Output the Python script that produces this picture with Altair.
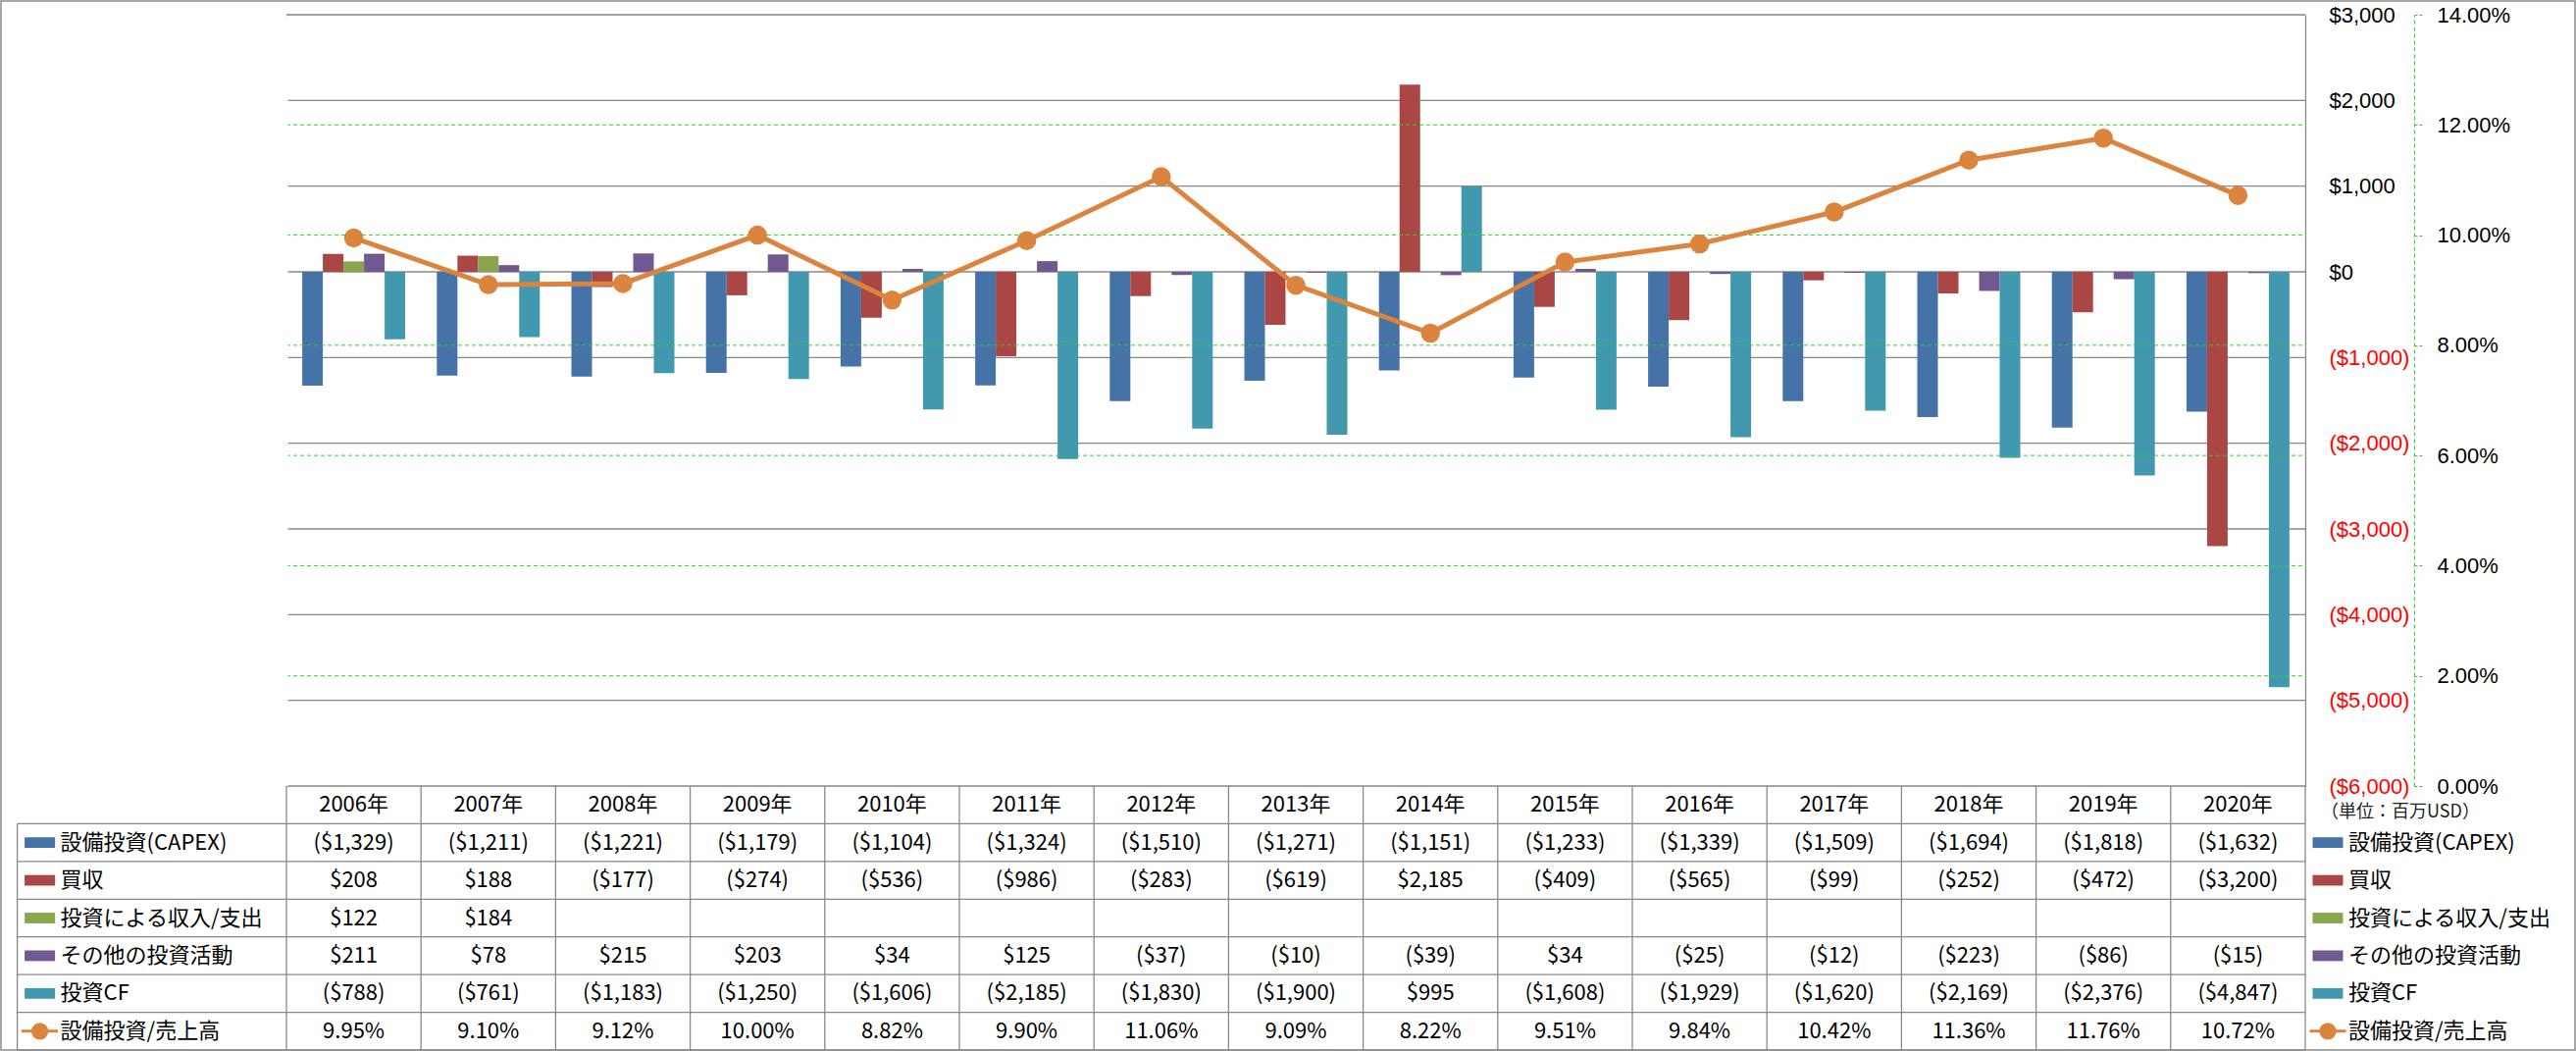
import altair as alt
import pandas as pd

# ---------------- data ----------------
years = ["2006年", "2007年", "2008年", "2009年", "2010年", "2011年", "2012年", "2013年",
         "2014年", "2015年", "2016年", "2017年", "2018年", "2019年", "2020年"]
series_names = ["設備投資(CAPEX)", "買収", "投資による収入/支出", "その他の投資活動", "投資CF"]
series_colors = ["#4572A7", "#AA4643", "#89A54E", "#71588F", "#4198AF"]
capex = [-1329, -1211, -1221, -1179, -1104, -1324, -1510, -1271, -1151, -1233, -1339, -1509, -1694, -1818, -1632]
acquisitions = [208, 188, -177, -274, -536, -986, -283, -619, 2185, -409, -565, -99, -252, -472, -3200]
invest_inout = [122, 184, None, None, None, None, None, None, None, None, None, None, None, None, None]
other_invest = [211, 78, 215, 203, 34, 125, -37, -10, -39, 34, -25, -12, -223, -86, -15]
invest_cf = [-788, -761, -1183, -1250, -1606, -2185, -1830, -1900, 995, -1608, -1929, -1620, -2169, -2376, -4847]
ratio_name = "設備投資/売上高"
ratio_color = "#DB843D"
capex_ratio = [9.95, 9.10, 9.12, 10.00, 8.82, 9.90, 11.06, 9.09, 8.22, 9.51, 9.84, 10.42, 11.36, 11.76, 10.72]
dollar_ticks = [-6000, -5000, -4000, -3000, -2000, -1000, 0, 1000, 2000, 3000]
pct_ticks = [0, 0.02, 0.04, 0.06, 0.08, 0.10, 0.12, 0.14]
pct_grid_values = [0.02, 0.04, 0.06, 0.08, 0.10, 0.12]
unit_note = "（単位：百万USD）"

FONT = "Noto Sans CJK JP"
AXIS_FONT = "Liberation Sans"
GRID = "#888888"
GREEN = "#22DD22"

# ---------------- layout ----------------
W, H = 2058, 786
STEP = W / len(years)
cols = ["L1", "L2"] + years + ["R1", "R2"]
x_scale = alt.Scale(type="band", domain=cols, range=[-2 * STEP, W + 2 * STEP],
                    paddingInner=0, paddingOuter=0)
row_keys = ["r1", "r2", "r3", "r4", "r5", "r6"]
rows = ["H"] + row_keys + ["END"]
ROW = (1055 - H) / 7
row_scale = alt.Scale(type="band", domain=rows, range=[H, H + 8 * ROW],
                      paddingInner=0, paddingOuter=0)
usd_scale = alt.Scale(domain=[-6000, 3000], nice=False, zero=False)
pct_scale = alt.Scale(domain=[0, 0.14], nice=False, zero=False)


def fmt_usd(v):
    if v is None:
        return ""
    if v < 0:
        return "($" + f"{-v:,}" + ")"
    return "$" + f"{v:,}"


series_values = [capex, acquisitions, invest_inout, other_invest, invest_cf]

bar_records = []
for name, vals in zip(series_names, series_values):
    for y, v in zip(years, vals):
        if v is not None:
            bar_records.append({"year": y, "series": name, "value": v})
bar_df = pd.DataFrame(bar_records)

ratio_df = pd.DataFrame({"year": years, "ratio": [r / 100 for r in capex_ratio]})

usd_grid_df = pd.DataFrame({"value": dollar_ticks})
pct_grid_df = pd.DataFrame({"ratio": pct_grid_values})

text_records = [{"col": y, "row": "H", "text": y} for y in years]
for rk, vals in zip(row_keys[:5], series_values):
    for y, v in zip(years, vals):
        text_records.append({"col": y, "row": rk, "text": fmt_usd(v)})
for y, r in zip(years, capex_ratio):
    text_records.append({"col": y, "row": "r6", "text": f"{r:.2f}%"})
text_df = pd.DataFrame(text_records)

labels = series_names + [ratio_name]
label_records = []
for side in ["L1", "R1"]:
    for rk, lab, c in zip(row_keys, labels, series_colors + [ratio_color]):
        label_records.append({"col": side, "row": rk, "label": lab, "clr": c})
label_df = pd.DataFrame(label_records)
swatch_df = label_df[label_df["row"] != "r6"]
line_swatch_df = label_df[label_df["row"] == "r6"]

vline_df = pd.DataFrame(
    [{"col": c, "top": "H", "bot": "END"} for c in years + ["R1"]]
    + [{"col": "L1", "top": "r1", "bot": "END"}])
hline_df = pd.DataFrame([{"row": r, "a": "L1", "b": "R1"} for r in row_keys + ["END"]])
note_df = pd.DataFrame([{"col": "R1", "row": "H", "text": unit_note}])

# ---------------- axes ----------------
usd_axis = alt.Axis(
    orient="right", values=dollar_ticks, title=None,
    labelExpr="datum.value < 0 ? '($' + format(-datum.value, ',') + ')' : '$' + format(datum.value, ',')",
    labelColor={"condition": {"test": "datum.value < 0", "value": "#FF0000"}, "value": "#000000"},
    labelFont=AXIS_FONT, labelFontSize=22, labelAlign="left", labelPadding=24,
    ticks=False, tickSize=0, domain=True, domainColor=GRID, domainWidth=1.3, grid=False)

pct_axis = alt.Axis(
    orient="right", offset=111, values=pct_ticks, format=".2%", title=None,
    labelFont=AXIS_FONT, labelFontSize=22, labelAlign="left", labelPadding=15, labelColor="#000000",
    ticks=True, tickSize=8, tickColor=GREEN, tickDash=[3, 2], tickWidth=1,
    domain=True, domainColor=GREEN, domainDash=[4, 3], domainWidth=1, grid=False)

X = lambda f, **kw: alt.X(f, scale=x_scale, axis=None, **kw)
RY = lambda f, **kw: alt.Y(f, scale=row_scale, axis=None, **kw)

# ---------------- layers ----------------
usd_grid = alt.Chart(usd_grid_df).mark_rule(color=GRID, strokeWidth=1.3).encode(
    x=alt.value(0), x2=alt.value("width"),
    y=alt.Y("value:Q", scale=usd_scale, axis=usd_axis))
bars = alt.Chart(bar_df).mark_bar().encode(
    x=X("year:N"),
    xOffset=alt.XOffset("series:N", scale=alt.Scale(domain=series_names, paddingInner=0, paddingOuter=0.767)),
    y=alt.Y("value:Q", stack=None, scale=usd_scale, axis=usd_axis),
    color=alt.Color("series:N", scale=alt.Scale(domain=series_names, range=series_colors), legend=None),
)
usd_layer = alt.layer(usd_grid, bars)

pct_grid = alt.Chart(pct_grid_df).mark_rule(color=GREEN, strokeWidth=1, strokeDash=[4, 3]).encode(
    x=alt.value(0), x2=alt.value("width"),
    y=alt.Y("ratio:Q", scale=pct_scale, axis=pct_axis))
pct_y = alt.Y("ratio:Q", scale=pct_scale, axis=pct_axis)
line = alt.Chart(ratio_df).mark_line(color=ratio_color, strokeWidth=5).encode(x=X("year:N"), y=pct_y)
points = alt.Chart(ratio_df).mark_point(filled=True, size=380, color=ratio_color, opacity=1).encode(
    x=X("year:N"), y=pct_y)
pct_layer = alt.layer(pct_grid, line, points)

# plain white edge to keep the plot's left side open (no axis line there in the original)
left_edge = alt.Chart(pd.DataFrame({"k": [0]})).mark_rule(color="#FFFFFF", strokeWidth=3).encode(
    x=alt.value(0), y=alt.value(2), y2=alt.value("height"))

vlines = alt.Chart(vline_df).mark_rule(color=GRID, strokeWidth=1.3).encode(
    x=X("col:N", bandPosition=0),
    y=RY("top:N", bandPosition=0),
    y2=alt.Y2("bot:N", bandPosition=0))
hlines = alt.Chart(hline_df).mark_rule(color=GRID, strokeWidth=1.3).encode(
    x=X("a:N", bandPosition=0),
    x2=alt.X2("b:N", bandPosition=0),
    y=RY("row:N", bandPosition=0))
texts = alt.Chart(text_df).mark_text(font=FONT, fontSize=22, color="#000000").encode(
    x=X("col:N"), y=RY("row:N"), text="text:N")
row_labels = alt.Chart(label_df).mark_text(font=FONT, fontSize=22, color="#000000", align="left", dx=44).encode(
    x=X("col:N", bandPosition=0), y=RY("row:N"), text="label:N")
swatches = alt.Chart(swatch_df).mark_point(
    shape="M-1,-0.35H1V0.35H-1Z", filled=True, size=961, opacity=1, xOffset=23).encode(
    x=X("col:N", bandPosition=0), y=RY("row:N"), fill=alt.Fill("clr:N", scale=None))
line_sw = alt.Chart(line_swatch_df).mark_point(
    shape="M-1,-0.08H1V0.08H-1Z", filled=True, size=1369, opacity=1, xOffset=23).encode(
    x=X("col:N", bandPosition=0), y=RY("row:N"), fill=alt.Fill("clr:N", scale=None))
line_sw_dot = alt.Chart(line_swatch_df).mark_point(filled=True, size=300, opacity=1, xOffset=23).encode(
    x=X("col:N", bandPosition=0), y=RY("row:N"), fill=alt.Fill("clr:N", scale=None))
note = alt.Chart(note_df).mark_text(font=FONT, fontSize=18, color="#222222", align="left", dx=16, dy=8).encode(
    x=X("col:N", bandPosition=0), y=RY("row:N"), text="text:N")
table_layer = alt.layer(vlines, hlines, texts, row_labels, swatches, line_sw, line_sw_dot, note)

frame = alt.Chart(pd.DataFrame({"k": [0]})).mark_rect(
    fillOpacity=0, stroke="#8C8C8C", strokeWidth=1.5).encode(
    x=alt.value(-291), x2=alt.value(W + 276 - 1), y=alt.value(-14), y2=alt.value(H + 270 - 1))

chart = alt.layer(usd_layer, pct_layer, left_edge, table_layer, frame).resolve_scale(y="independent").properties(
    width=W, height=H,
    autosize=alt.AutoSizeParams(type="none"),
    padding={"left": 292, "top": 15, "right": 276, "bottom": 270},
    background="#FFFFFF",
).configure_view(stroke="transparent", strokeWidth=0).configure(font=FONT)

chart.save("out.html", embed_options={"renderer": "svg", "actions": False})
